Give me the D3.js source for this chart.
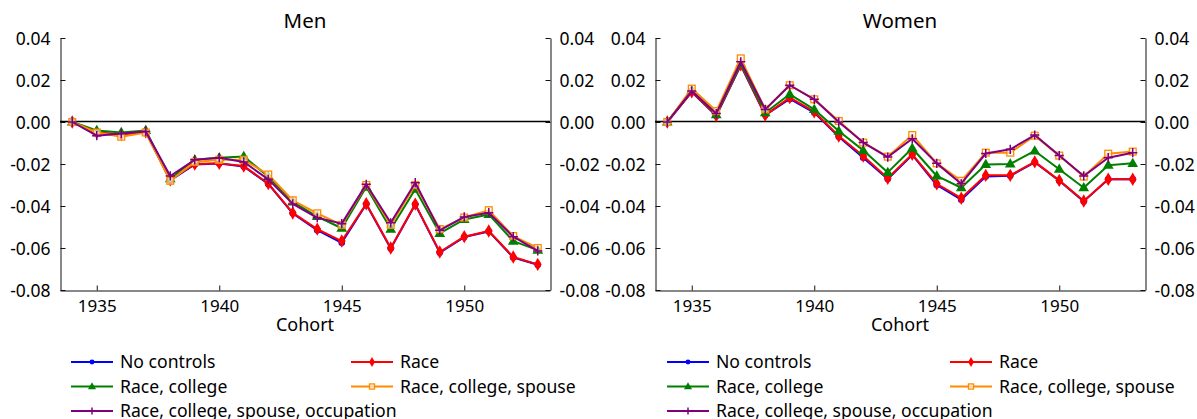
<!DOCTYPE html>
<html>
<head>
<meta charset="utf-8">
<script src="https://cdn.jsdelivr.net/npm/d3@7"></script>
<style>
  body { margin: 0; background: #fff; }
  svg { display: block; }
  text { font-family: "Noto Sans", "Open Sans", sans-serif; fill: #000; }
</style>
</head>
<body>
<svg id="chart" width="1197" height="419"></svg>
<script>
const cohorts = [1934,1935,1936,1937,1938,1939,1940,1941,1942,1943,1944,1945,1946,1947,1948,1949,1950,1951,1952,1953];
const seriesNames = ["No controls","Race","Race, college","Race, college, spouse","Race, college, spouse, occupation"];
const yTicks = [-0.08,-0.06,-0.04,-0.02,0.00,0.02,0.04];
const yTickLabels = ["-0.08","-0.06","-0.04","-0.02","0.00","0.02","0.04"];
const xTicks = [1935,1940,1945,1950];

const menNoControls = [0,-0.0052,-0.006,-0.0048,-0.0278,-0.0202,-0.0198,-0.0212,-0.0295,-0.0435,-0.0515,-0.0575,-0.0392,-0.0602,-0.0393,-0.0622,-0.0548,-0.0521,-0.0645,-0.0680];
const menRace       = [0,-0.0050,-0.006,-0.0047,-0.0275,-0.0200,-0.0197,-0.0210,-0.0293,-0.0433,-0.0510,-0.0567,-0.0389,-0.0600,-0.0391,-0.0619,-0.0546,-0.0519,-0.0643,-0.0678];
const menCollege    = [0,-0.0040,-0.005,-0.0040,-0.0270,-0.0180,-0.0170,-0.0164,-0.0260,-0.0380,-0.0450,-0.0506,-0.0310,-0.0510,-0.0320,-0.0530,-0.0464,-0.0440,-0.0567,-0.0610];
const menSpouse     = [0,-0.0050,-0.007,-0.0050,-0.0280,-0.0190,-0.0180,-0.0180,-0.0250,-0.0373,-0.0435,-0.0490,-0.0300,-0.0490,-0.0300,-0.0510,-0.0455,-0.0420,-0.0543,-0.0600];
const menOccupation = [0,-0.0065,-0.0055,-0.0045,-0.0257,-0.0180,-0.0170,-0.0190,-0.0273,-0.0390,-0.0456,-0.0484,-0.0297,-0.0480,-0.0289,-0.0516,-0.0452,-0.0432,-0.0546,-0.0614];

const womenNoControls = [0,0.0143,0.0030,0.0270,0.0032,0.0110,0.0045,-0.0070,-0.0170,-0.0272,-0.0157,-0.0300,-0.0370,-0.0260,-0.0256,-0.0192,-0.0280,-0.0378,-0.0273,-0.0273];
const womenRace       = [0,0.0144,0.0031,0.0272,0.0033,0.0116,0.0049,-0.0067,-0.0162,-0.0268,-0.0154,-0.0294,-0.0363,-0.0254,-0.0254,-0.0190,-0.0278,-0.0376,-0.0273,-0.0273];
const womenCollege    = [0,0.0150,0.0035,0.0278,0.0044,0.0132,0.0060,-0.0043,-0.0135,-0.0240,-0.0125,-0.0257,-0.0313,-0.0202,-0.0200,-0.0138,-0.0225,-0.0313,-0.0206,-0.0197];
const womenSpouse     = [0,0.0159,0.0052,0.0303,0.0060,0.0175,0.0108,0.0005,-0.0098,-0.0165,-0.0062,-0.0197,-0.0280,-0.0146,-0.0146,-0.0065,-0.0160,-0.0260,-0.0151,-0.0141];
const womenOccupation = [0,0.0148,0.0040,0.0287,0.0060,0.0175,0.0108,0.0000,-0.0098,-0.0167,-0.0080,-0.0197,-0.0294,-0.0150,-0.0130,-0.0062,-0.0160,-0.0257,-0.0170,-0.0146];

const colors = ["#0000ff","#ff0000","#008000","#ff8c00","#800080"];
const markers = ["circle","diamond","triangle","square","plus"];

const panels = [
  {title:"Men", x0:60, x1:550, data:[menNoControls,menRace,menCollege,menSpouse,menOccupation],
   legend:{col:[71,351], row:[362,386.5,411]}},
  {title:"Women", x0:655, x1:1145, data:[womenNoControls,womenRace,womenCollege,womenSpouse,womenOccupation],
   legend:{col:[667,950], row:[362,386.5,411]}}
];

const svg = d3.select("#chart");
const yTop = 38, yBottom = 290;

function drawMarker(g, type, color, x, y, scale) {
  const s = scale || 1;
  if (type === "circle") {
    g.append("circle").attr("cx", x).attr("cy", y).attr("r", 3.3*s).attr("fill", color);
  } else if (type === "diamond") {
    g.append("path").attr("d", d3.symbol().type(d3.symbolDiamond).size(52*s*s)())
      .attr("transform", `translate(${x},${y})`).attr("fill", color);
  } else if (type === "triangle") {
    g.append("path").attr("d", d3.symbol().type(d3.symbolTriangle).size(50*s*s)())
      .attr("transform", `translate(${x},${y+0.5})`).attr("fill", color);
  } else if (type === "square") {
    const h = 3.4*s;
    g.append("rect").attr("x", x-h).attr("y", y-h).attr("width", 2*h).attr("height", 2*h)
      .attr("fill", "#fff").attr("fill-opacity", 0.6).attr("stroke", color).attr("stroke-width", 1.3);
  } else if (type === "plus") {
    const h = 4.6*s;
    g.append("path").attr("d", `M${x-h},${y}H${x+h}M${x},${y-h}V${y+h}`)
      .attr("stroke", color).attr("stroke-width", 1.5).attr("fill", "none");
  }
}

panels.forEach(p => {
  const x = d3.scaleLinear().domain([1933.5, 1953.5]).range([p.x0, p.x1]);
  const y = d3.scaleLinear().domain([-0.08, 0.04]).range([yBottom, yTop]);
  const g = svg.append("g");

  const fmt = v => yTickLabels[yTicks.indexOf(v)];
  const la = g.append("g").attr("transform", `translate(${p.x0 + 0.5},0)`)
    .call(d3.axisLeft(y).tickValues(yTicks).tickFormat(fmt).tickSizeInner(-5).tickSizeOuter(0).tickPadding(10));
  const ra = g.append("g").attr("transform", `translate(${p.x1 + 0.5},0)`)
    .call(d3.axisRight(y).tickValues(yTicks).tickFormat(fmt).tickSizeInner(-5).tickSizeOuter(0).tickPadding(9));
  const ba = g.append("g").attr("transform", `translate(0,${yBottom + 0.5})`)
    .call(d3.axisBottom(x).tickValues(xTicks).tickFormat(d3.format("d")).tickSizeInner(-5).tickSizeOuter(0).tickPadding(9));
  [la, ra].forEach(a => a.selectAll("text").style("font-size", "17.5px").attr("fill", "#000").attr("dy", "0.36em"));
  ba.selectAll("text").style("font-size", "17px").attr("fill", "#000");
  [la, ra, ba].forEach(a => a.selectAll("line,path").attr("stroke", "#111"));

  const y0 = Math.round(y(0)) - 0.5;
  g.append("line").attr("x1", p.x0).attr("x2", p.x1).attr("y1", y0).attr("y2", y0)
    .attr("stroke", "#000").attr("stroke-width", 1.3);

  g.append("text").attr("x", (p.x0+p.x1)/2).attr("y", 28).attr("text-anchor", "middle")
    .style("font-size", "20.5px").text(p.title);
  g.append("text").attr("x", (p.x0+p.x1)/2).attr("y", 331).attr("text-anchor", "middle")
    .style("font-size", "18px").text("Cohort");

  const line = d3.line().x((d,i) => x(cohorts[i])).y(d => y(d));
  p.data.forEach((vals, si) => {
    const sg = g.append("g");
    sg.append("path").datum(vals).attr("d", line).attr("fill", "none")
      .attr("stroke", colors[si]).attr("stroke-width", 2).attr("stroke-linejoin", "round");
    vals.forEach((v, i) => drawMarker(sg, markers[si], colors[si], x(cohorts[i]), y(v), 1));
  });

  seriesNames.forEach((name, si) => {
    const col = si % 2, row = Math.floor(si / 2);
    const lx = p.legend.col[col], ly = p.legend.row[row];
    const lg = g.append("g");
    lg.append("line").attr("x1", lx).attr("x2", lx+42).attr("y1", ly).attr("y2", ly)
      .attr("stroke", colors[si]).attr("stroke-width", 2);
    drawMarker(lg, markers[si], colors[si], lx+21, ly, 0.75);
    lg.append("text").attr("x", lx+49).attr("y", ly).attr("dy", "0.35em")
      .style("font-size", "17.6px").text(name);
  });
});
</script>
</body>
</html>
